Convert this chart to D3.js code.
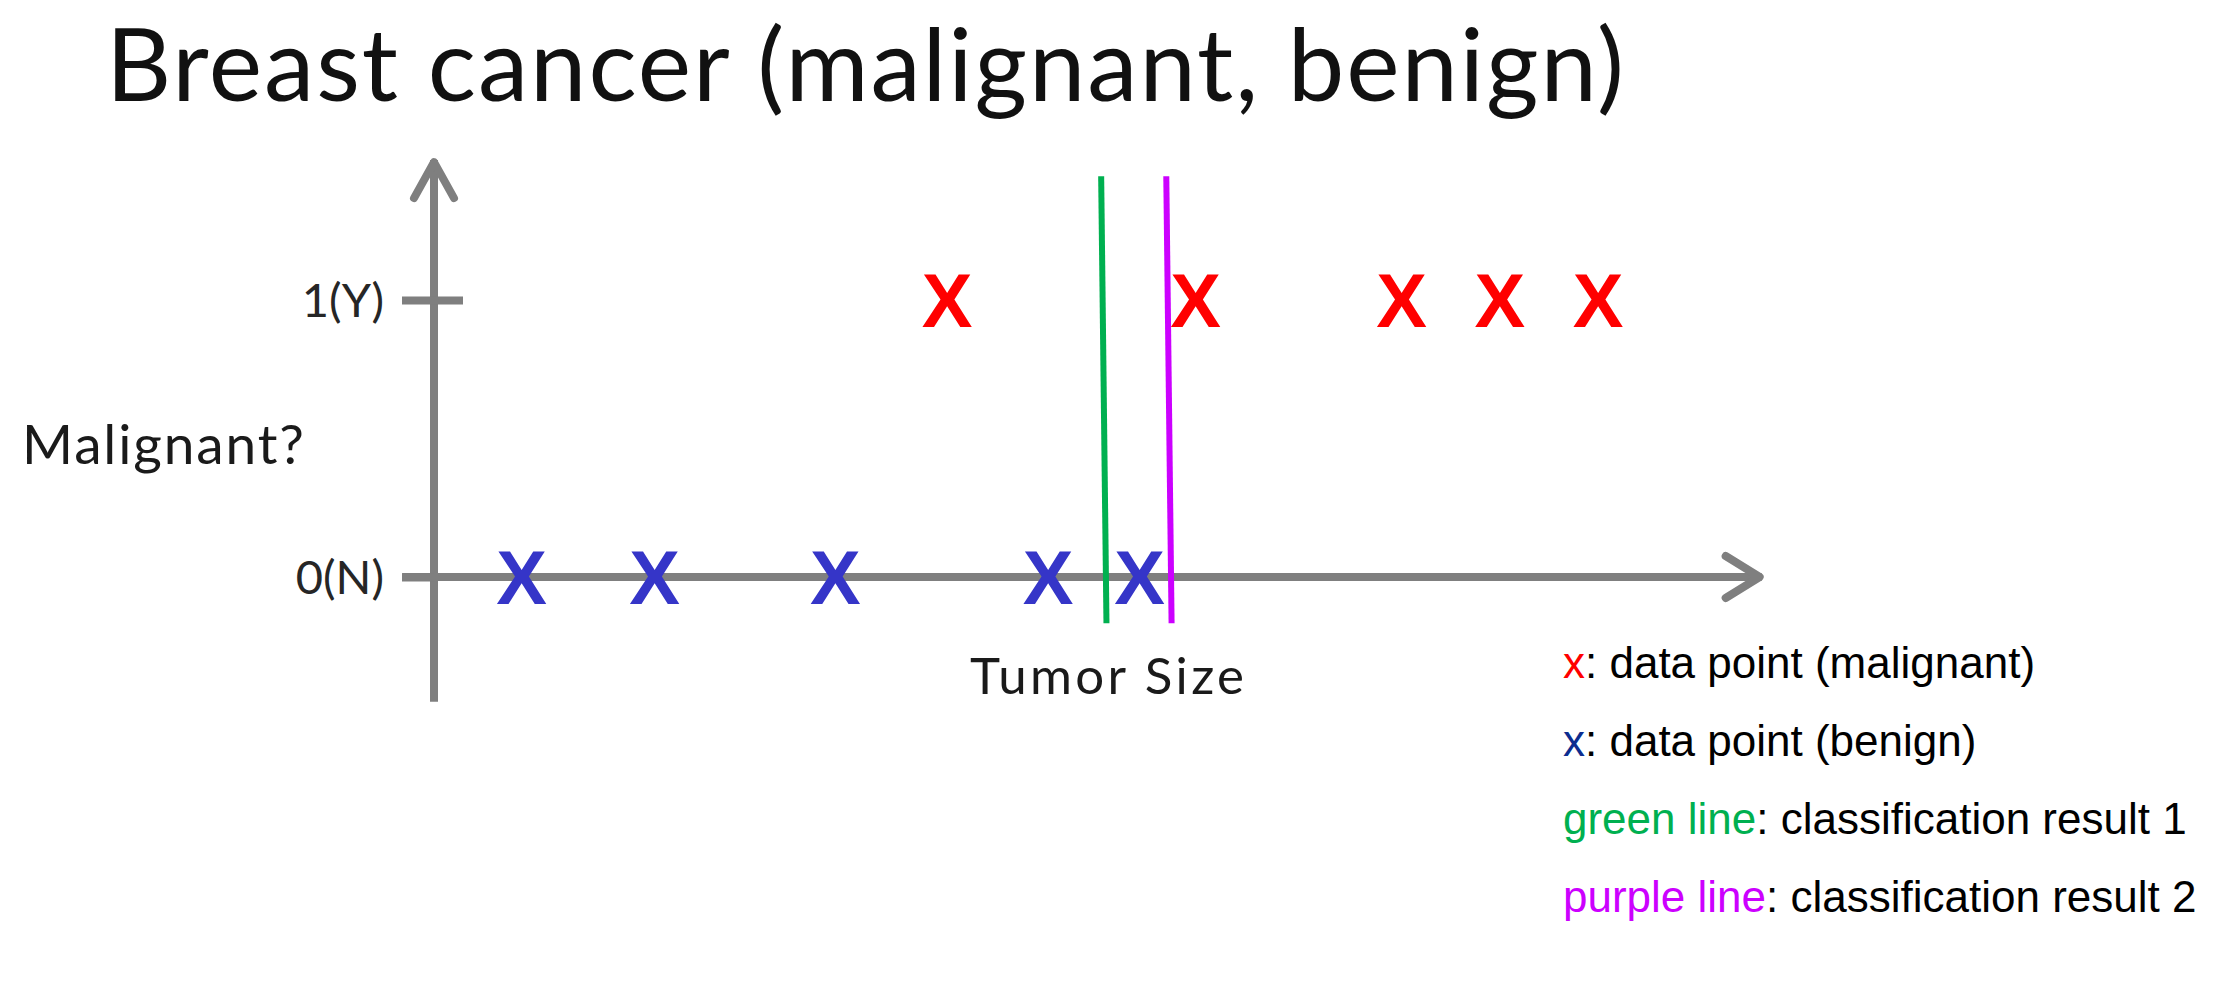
<!DOCTYPE html>
<html>
<head>
<meta charset="utf-8">
<script src="https://cdn.jsdelivr.net/npm/d3@7"></script>
<style>
  html, body { margin: 0; padding: 0; background: #ffffff; }
  svg { display: block; }
</style>
</head>
<body>
<svg id="chart" width="2214" height="1000"></svg>
<script>
// ---------- data ----------
const titleText = "Breast cancer (malignant, benign)";
const yLabel = "Malignant?";
const xLabel = "Tumor Size";
const yTickValues = [0, 1];
const yTickLabels = ["0(N)", "1(Y)"];
const benignSizes = [0.66, 1.66, 3.02, 4.62, 5.31];       // class 0
const malignantSizes = [3.86, 5.73, 7.28, 8.02, 8.76];    // class 1
const boundaryNames = ["green line", "purple line"];
const boundaryTop = [5.02, 5.51];      // x at top end
const boundaryBottom = [5.06, 5.55];   // x at bottom end
const legendKeys = ["x", "x", "green line", "purple line"];
const legendTexts = [": data point (malignant)", ": data point (benign)", ": classification result 1", ": classification result 2"];

// ---------- layout ----------
const svg = d3.select("#chart");
const x = d3.scaleLinear().domain([0, 10]).range([434, 1763]);
const y = d3.scaleLinear().domain([0, 1]).range([577, 300]);

const axisColor = "#7f7f7f";
const calibri = "Lato, 'Open Sans', sans-serif";
const arial = "'Liberation Sans', Arial, sans-serif";

// keep font size and spread letters slightly to reach the reference width
function fitSpacing(sel, target) {
  const w = sel.node().getComputedTextLength();
  const n = sel.text().length;
  sel.attr("letter-spacing", (target - w) / (n - 1));
}

// title
const title = svg.append("text")
  .attr("x", 106).attr("y", 101)
  .attr("font-family", calibri).attr("font-size", 101)
  .attr("fill", "#111").text(titleText);
fitSpacing(title, 1518);

// axes lines with arrowheads
const g = svg.append("g");
const yTop = 1.505, yBottom = -0.45;
g.append("line")
  .attr("x1", x(0)).attr("x2", x(0))
  .attr("y1", y(yTop)).attr("y2", y(yBottom))
  .attr("stroke", axisColor).attr("stroke-width", 8);
g.append("path")
  .attr("d", `M${x(0) - 20},${y(yTop) + 38} L${x(0)},${y(yTop) + 2} L${x(0) + 20},${y(yTop) + 38}`)
  .attr("fill", "none").attr("stroke", axisColor).attr("stroke-width", 8)
  .attr("stroke-linecap", "round").attr("stroke-linejoin", "round");

const xStart = -0.24, xEnd = 9.99;
g.append("line")
  .attr("x1", x(xStart)).attr("x2", x(xEnd))
  .attr("y1", y(0)).attr("y2", y(0))
  .attr("stroke", axisColor).attr("stroke-width", 8);
g.append("path")
  .attr("d", `M${x(xEnd) - 36},${y(0) - 21} L${x(xEnd) - 2},${y(0)} L${x(xEnd) - 36},${y(0) + 21}`)
  .attr("fill", "none").attr("stroke", axisColor).attr("stroke-width", 8)
  .attr("stroke-linecap", "round").attr("stroke-linejoin", "round");

// y axis ticks via d3 axis
const yAxis = d3.axisLeft(y)
  .tickValues(yTickValues)
  .tickFormat((d, i) => yTickLabels[i])
  .tickSize(32).tickPadding(18);
const yg = svg.append("g").attr("transform", `translate(${x(0)},0)`).call(yAxis);
yg.select(".domain").remove();
yg.selectAll(".tick line").attr("stroke", axisColor).attr("stroke-width", 8)
  .attr("x2", -32)
  .attr("x1", d => d === 1 ? 29 : 0);
yg.selectAll(".tick text")
  .attr("font-family", calibri).attr("font-size", 47)
  .attr("fill", "#262626").attr("dy", "0.36em");

// axis labels
const yl = svg.append("text").attr("x", 22).attr("y", 464)
  .attr("font-family", calibri).attr("font-size", 55).attr("fill", "#1a1a1a").text(yLabel);
fitSpacing(yl, 282);
const xl = svg.append("text").attr("x", 970).attr("y", 694)
  .attr("font-family", calibri).attr("font-size", 51).attr("fill", "#1a1a1a").text(xLabel);
fitSpacing(xl, 274);

// boundary lines
const bColors = ["#00b050", "#cc00ff"];
svg.append("g").selectAll("line").data(boundaryNames).join("line")
  .attr("x1", (d, i) => x(boundaryTop[i])).attr("y1", y(1.447))
  .attr("x2", (d, i) => x(boundaryBottom[i])).attr("y2", y(-0.167))
  .attr("stroke", (d, i) => bColors[i]).attr("stroke-width", 6);

// data points as X glyphs
const markSize = 76;
svg.append("g").selectAll("text").data(benignSizes).join("text")
  .attr("x", d => x(d)).attr("y", y(0) + 27)
  .attr("text-anchor", "middle")
  .attr("font-family", arial).attr("font-weight", "bold").attr("font-size", markSize)
  .attr("fill", "#3535c8").text("X");
svg.append("g").selectAll("text").data(malignantSizes).join("text")
  .attr("x", d => x(d)).attr("y", y(1) + 27)
  .attr("text-anchor", "middle")
  .attr("font-family", arial).attr("font-weight", "bold").attr("font-size", markSize)
  .attr("fill", "#ff0000").text("X");

// legend
const legendColors = ["#ff0000", "#0c2d8f", "#00b050", "#cc00ff"];
const lg = svg.append("g");
lg.selectAll("text").data(legendKeys).join("text")
  .attr("x", 1563).attr("y", (d, i) => 678 + i * 78)
  .attr("font-family", arial).attr("font-size", 44)
  .each(function (d, i) {
    const t = d3.select(this);
    t.append("tspan").attr("fill", legendColors[i]).text(d);
    t.append("tspan").attr("fill", "#000").text(legendTexts[i]);
  });
</script>
</body>
</html>
